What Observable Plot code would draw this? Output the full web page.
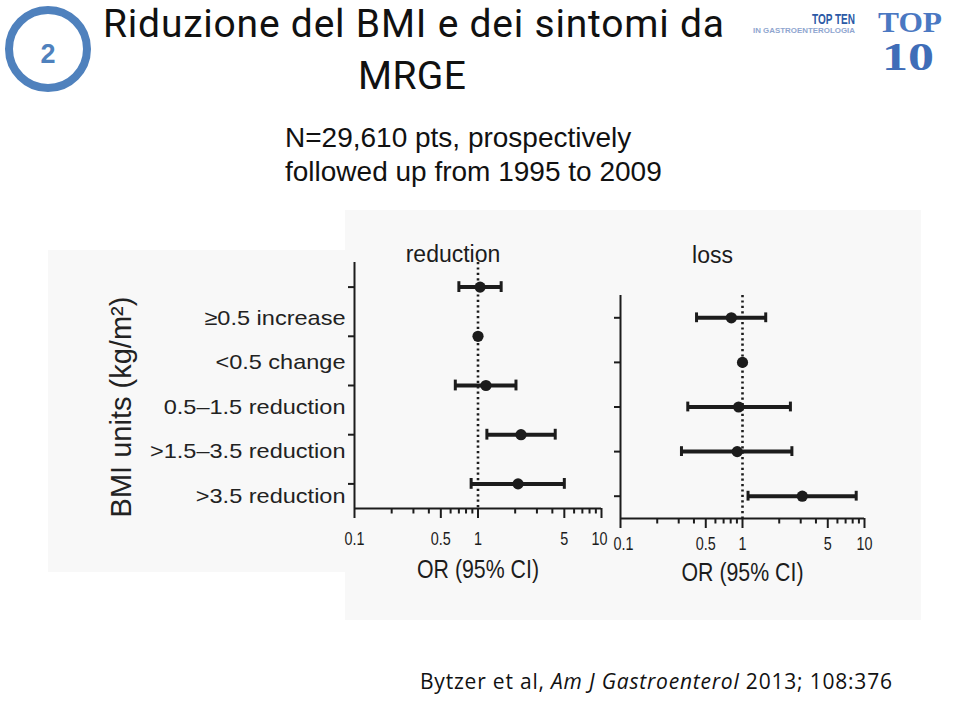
<!DOCTYPE html>
<html>
<head>
<meta charset="utf-8">
<script src="https://cdn.jsdelivr.net/npm/d3@7"></script>
<script src="https://cdn.jsdelivr.net/npm/@observablehq/plot@0.6"></script>
<style>
  body { margin: 0; background: #ffffff; }
  #page { position: relative; width: 960px; height: 704px; overflow: hidden; font-family: "Liberation Sans", Arial, sans-serif; color: #111; }
  .abs { position: absolute; }
  #page svg { position: absolute; left: 0; top: 0; }
</style>
</head>
<body>
<div id="page">
  <div class="abs" style="left:48px;top:250px;width:300px;height:322px;background:#f8f8f8"></div>
  <div class="abs" style="left:345px;top:210px;width:576px;height:410px;background:#f8f8f8"></div>
  <svg id="header" width="960" height="704" viewBox="0 0 960 704">
    <circle cx="48" cy="49" r="39" fill="none" stroke="#4f81bd" stroke-width="8"></circle>
    <text x="48" y="63" text-anchor="middle" font-family="Liberation Sans, Arial, sans-serif" font-weight="bold" font-size="27" fill="#4f81bd">2</text>
    <text x="103" y="36.5" font-family="Roboto, 'Open Sans', sans-serif" font-size="39" fill="#111" textLength="621" lengthAdjust="spacing">Riduzione del BMI e dei sintomi da</text>
    <text x="358" y="89" font-family="Roboto, 'Open Sans', sans-serif" font-size="39" fill="#111" textLength="108" lengthAdjust="spacing">MRGE</text>
    <text x="285" y="147" font-family="'Liberation Sans', Arial, sans-serif" font-size="28" fill="#111">N=29,610 pts, prospectively</text>
    <text x="285" y="181" font-family="'Liberation Sans', Arial, sans-serif" font-size="28" fill="#111">followed up from 1995 to 2009</text>
    <text x="812" y="24" font-family="'Liberation Sans', Arial, sans-serif" font-weight="bold" font-size="14" fill="#2b5aa6" textLength="43" lengthAdjust="spacingAndGlyphs">TOP TEN</text>
    <text x="753" y="33" font-family="'Liberation Sans', Arial, sans-serif" font-weight="bold" font-size="8" fill="#8fa6cf" textLength="102" lengthAdjust="spacingAndGlyphs">IN GASTROENTEROLOGIA</text>
    <text x="878" y="32" font-family="'Liberation Serif', serif" font-weight="bold" font-size="30" fill="#4a78c2" textLength="64" lengthAdjust="spacingAndGlyphs">TOP</text>
    <text x="882" y="70" font-family="'Liberation Serif', serif" font-weight="bold" font-size="40" fill="#3f6db8" textLength="52" lengthAdjust="spacingAndGlyphs">10</text>
    <text x="420" y="689" font-family="'Open Sans', Lato, sans-serif" font-size="21" fill="#111" textLength="472" lengthAdjust="spacing">Bytzer et al, <tspan font-style="italic">Am J Gastroenterol</tspan> 2013; 108:376</text>
  </svg>
  <div id="charts"></div>
</div>
<script>
// ---- data ----
const categories = ["≥0.5 increase", "<0.5 change", "0.5–1.5 reduction", ">1.5–3.5 reduction", ">3.5 reduction"];
const reductionOR = [1.04, 1.0, 1.16, 2.23, 2.11];
const reductionLo = [0.70, null, 0.655, 1.18, 0.88];
const reductionHi = [1.54, null, 2.03, 4.22, 5.0];
const lossOR = [0.81, 1.0, 0.93, 0.905, 3.09];
const lossLo = [0.42, null, 0.356, 0.316, 1.11];
const lossHi = [1.55, null, 2.47, 2.54, 8.55];
const xTicksLabeled = [0.1, 0.5, 1, 5, 10];
const xTicksMinor = [0.2, 0.3, 0.4, 0.6, 0.7, 0.8, 0.9, 2, 3, 4, 6, 7, 8, 9];
const panelTitles = ["reduction", "loss"];
const xAxisLabel = "OR (95% CI)";
const yAxisLabel = "BMI units (kg/m²)";

const ink = "#1c1c1c";

function panel(o) {
  const rows = categories.map((c, i) => ({cat: c, idx: i + 1, or: o.or[i], lo: o.lo[i], hi: o.hi[i]}));
  const ci = rows.filter(d => d.lo != null);
  const labelOpts = {tickSize: 0, tickPadding: 10 + o.tickPad, stroke: "none", fill: ink,
    tickFormat: d => String(d), fontSize: 18, label: null};
  const marks = [
    Plot.ruleX([1], {stroke: ink, strokeWidth: 2.6, strokeDasharray: "2.2,3.2"}),
    Plot.ruleY(ci, {x1: "lo", x2: "hi", y: "idx", stroke: ink, strokeWidth: 4}),
    Plot.ruleX(ci, {x: "lo", y1: d => d.idx - 0.11, y2: d => d.idx + 0.11, stroke: ink, strokeWidth: 3}),
    Plot.ruleX(ci, {x: "hi", y1: d => d.idx - 0.11, y2: d => d.idx + 0.11, stroke: ink, strokeWidth: 3}),
    Plot.dot(rows, {x: "or", y: "idx", r: 5.6, fill: ink}),
    Plot.ruleX([0.1], {stroke: ink, strokeWidth: 2}),
    Plot.ruleY([5.5], {stroke: ink, strokeWidth: 2}),
    // major ticks (marks only), then their labels; the label touching the neighbouring panel is nudged
    Plot.axisX({ticks: xTicksLabeled, tickSize: 10, strokeWidth: 2, stroke: ink, fill: "none", label: null}),
    Plot.axisX({...labelOpts, ticks: xTicksLabeled.filter(t => t !== o.nudgeTick)}),
    Plot.axisX({...labelOpts, ticks: [o.nudgeTick], dx: o.nudgeDx}),
    Plot.axisX({ticks: xTicksMinor, tickSize: 5.5, strokeWidth: 2, stroke: ink, fill: "none", label: null}),
    Plot.axisY({ticks: [1, 2, 3, 4, 5], tickSize: 6, strokeWidth: 2, stroke: ink, fill: "none", label: null}),
    Plot.text([o.title], {frameAnchor: "top", dx: o.titleDx, dy: o.titleDy, fontSize: 23, fill: ink}),
    Plot.text([xAxisLabel], {frameAnchor: "bottom", dy: o.orDy, fontSize: 26, fill: ink})
  ];
  if (o.withLabels) {
    marks.push(Plot.text(rows, {y: "idx", text: "cat", frameAnchor: "left", dx: -275, textAnchor: "end", fontSize: 21, fill: "#222"}));
    marks.push(Plot.text([yAxisLabel], {frameAnchor: "left", dx: -499, rotate: -90, textAnchor: "middle", fontSize: 29, fill: "#222"}));
  }
  return Plot.plot({
    width: 960, height: 704,
    marginLeft: o.left, marginRight: 960 - o.right, marginTop: o.top, marginBottom: 704 - o.bottom,
    style: {background: "transparent", overflow: "visible", fontFamily: "'Liberation Sans', Arial, sans-serif", color: ink},
    x: {type: "log", domain: [0.1, 10]},
    y: {domain: [5.5, 0.5]},
    marks
  });
}

// horizontal scaling of texts to mimic the reference's condensed / widened lettering
function stretch(svg, contents, k) {
  const set = new Set(contents);
  svg.querySelectorAll("text").forEach(el => {
    if (!set.has(el.textContent)) return;
    const len = el.getComputedTextLength();
    if (len > 0) {
      el.setAttribute("textLength", (len * k).toFixed(1));
      el.setAttribute("lengthAdjust", "spacingAndGlyphs");
    }
  });
}

const charts = document.getElementById("charts");
const rightSvg = panel({or: lossOR, lo: lossLo, hi: lossHi, title: panelTitles[1], left: 620, right: 864, top: 295, bottom: 518,
  titleDx: -30, titleDy: -49, tickPad: 9, orDy: 62, nudgeTick: 0.1, nudgeDx: 3, withLabels: true});
const leftSvg = panel({or: reductionOR, lo: reductionLo, hi: reductionHi, title: panelTitles[0], left: 354, right: 601, top: 262, bottom: 508,
  titleDx: -25, titleDy: -17, tickPad: 14, orDy: 69, nudgeTick: 10, nudgeDx: -2, withLabels: false});
charts.append(rightSvg);
charts.append(leftSvg);
for (const svg of [leftSvg, rightSvg]) {
  stretch(svg, xTicksLabeled.map(String), 0.8);
  stretch(svg, [xAxisLabel], 0.82);
  stretch(svg, categories, 1.12);
}
</script>
</body>
</html>
